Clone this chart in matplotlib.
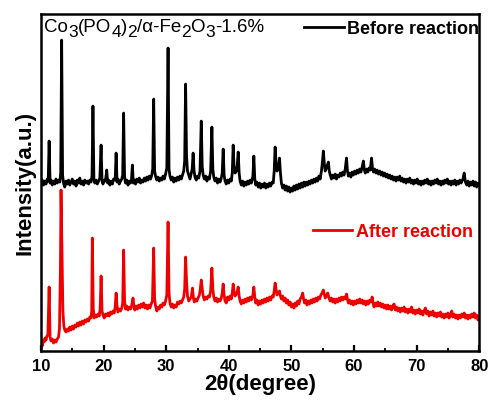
import numpy as np
import matplotlib
matplotlib.use("Agg")
import matplotlib.pyplot as plt
from matplotlib.ticker import MultipleLocator
from matplotlib.transforms import offset_copy

plt.rcParams['font.family'] = ['Liberation Sans', 'DejaVu Sans']

# XRD traces: (2theta, intensity a.u.)
before = [
    (10.0, 168), (10.2, 171), (10.4, 166), (10.6, 170), (10.8, 167), (11.0, 172), (11.15, 170), (11.3, 210),
    (11.45, 168), (11.6, 171), (11.8, 166), (12.0, 170), (12.2, 167), (12.4, 172), (12.6, 168), (12.8, 171),
    (13.0, 169), (13.15, 178), (13.3, 311), (13.45, 176), (13.6, 168), (13.8, 164), (14.0, 170), (14.2, 167),
    (14.4, 171), (14.6, 166), (14.8, 169), (15.0, 172), (15.2, 167), (15.4, 170), (15.6, 165), (15.8, 171),
    (16.0, 168), (16.2, 173), (16.4, 167), (16.6, 170), (16.8, 166), (17.0, 171), (17.2, 168), (17.4, 170),
    (17.6, 167), (17.8, 171), (18.0, 169), (18.15, 175), (18.3, 245), (18.45, 172), (18.6, 168), (18.8, 171),
    (19.0, 167), (19.2, 170), (19.4, 173), (19.6, 206), (19.75, 170), (19.9, 167), (20.1, 171), (20.3, 170),
    (20.5, 181), (20.65, 168), (20.8, 171), (21.0, 166), (21.2, 170), (21.4, 167), (21.6, 172), (21.85, 171),
    (22.0, 198), (22.15, 169), (22.3, 172), (22.5, 167), (22.7, 170), (22.9, 172), (23.05, 176), (23.2, 238),
    (23.35, 174), (23.5, 168), (23.7, 171), (23.9, 166), (24.1, 170), (24.3, 168), (24.45, 171), (24.6, 186),
    (24.75, 168), (24.9, 171), (25.1, 167), (25.3, 172), (25.5, 169), (25.7, 173), (25.9, 168), (26.1, 171),
    (26.3, 169), (26.5, 173), (26.7, 170), (26.9, 174), (27.1, 171), (27.3, 175), (27.5, 172), (27.7, 176),
    (27.85, 182), (28.0, 252), (28.15, 180), (28.3, 175), (28.5, 171), (28.7, 174), (28.9, 170), (29.1, 173),
    (29.3, 171), (29.5, 175), (29.7, 172), (29.9, 177), (30.1, 183), (30.3, 303), (30.45, 182), (30.6, 175),
    (30.8, 171), (31.0, 174), (31.2, 169), (31.4, 173), (31.6, 170), (31.8, 174), (32.0, 171), (32.2, 175),
    (32.4, 172), (32.6, 176), (32.8, 180), (32.95, 190), (33.1, 267), (33.25, 195), (33.4, 180), (33.6, 176),
    (33.8, 172), (34.0, 178), (34.15, 182), (34.3, 198), (34.45, 180), (34.6, 174), (34.8, 171), (35.0, 175),
    (35.2, 173), (35.4, 180), (35.6, 230), (35.75, 185), (35.9, 176), (36.1, 172), (36.3, 175), (36.5, 170),
    (36.7, 174), (36.9, 172), (37.1, 180), (37.3, 224), (37.45, 182), (37.6, 174), (37.8, 170), (38.0, 173),
    (38.2, 168), (38.4, 172), (38.6, 169), (38.8, 173), (38.95, 178), (39.1, 202), (39.25, 176), (39.4, 170),
    (39.6, 167), (39.8, 171), (40.0, 168), (40.2, 172), (40.4, 170), (40.55, 178), (40.7, 206), (40.85, 182),
    (41.0, 178), (41.2, 180), (41.35, 186), (41.5, 199), (41.65, 178), (41.8, 170), (42.0, 166), (42.2, 170),
    (42.4, 165), (42.6, 169), (42.8, 166), (43.0, 170), (43.2, 167), (43.4, 171), (43.6, 168), (43.85, 175),
    (44.0, 195), (44.15, 172), (44.3, 166), (44.5, 169), (44.7, 164), (44.9, 168), (45.1, 163), (45.3, 167),
    (45.5, 164), (45.7, 168), (45.9, 163), (46.1, 167), (46.3, 164), (46.5, 168), (46.7, 165), (46.9, 169),
    (47.1, 168), (47.25, 180), (47.4, 204), (47.55, 188), (47.7, 180), (47.9, 182), (48.1, 193), (48.25, 178),
    (48.4, 168), (48.6, 163), (48.8, 166), (49.0, 161), (49.2, 165), (49.4, 160), (49.6, 164), (49.8, 159),
    (50.0, 163), (50.2, 160), (50.4, 165), (50.6, 161), (50.8, 166), (51.0, 162), (51.2, 167), (51.4, 163),
    (51.6, 168), (51.8, 164), (52.0, 169), (52.2, 165), (52.4, 169), (52.6, 166), (52.8, 170), (53.0, 167),
    (53.2, 171), (53.4, 168), (53.6, 172), (53.8, 169), (54.0, 173), (54.2, 170), (54.4, 175), (54.6, 172),
    (54.8, 180), (55.0, 192), (55.1, 200), (55.25, 188), (55.4, 180), (55.6, 183), (55.9, 189), (56.05, 180),
    (56.2, 176), (56.4, 172), (56.6, 176), (56.8, 173), (57.0, 177), (57.2, 172), (57.4, 176), (57.6, 174),
    (57.8, 178), (58.0, 175), (58.2, 179), (58.4, 176), (58.6, 182), (58.8, 193), (58.95, 180), (59.1, 175),
    (59.3, 178), (59.5, 174), (59.7, 179), (59.9, 176), (60.1, 180), (60.3, 177), (60.5, 181), (60.7, 178),
    (60.9, 182), (61.1, 179), (61.3, 184), (61.5, 190), (61.65, 181), (61.8, 178), (62.0, 182), (62.2, 179),
    (62.4, 183), (62.6, 181), (62.8, 193), (62.95, 183), (63.1, 179), (63.3, 182), (63.5, 178), (63.7, 181),
    (63.9, 177), (64.1, 180), (64.3, 176), (64.5, 179), (64.7, 175), (64.9, 178), (65.1, 174), (65.3, 177),
    (65.5, 173), (65.7, 176), (65.9, 172), (66.1, 175), (66.3, 171), (66.5, 174), (66.7, 170), (66.9, 174),
    (67.1, 171), (67.3, 175), (67.5, 170), (67.7, 173), (67.9, 169), (68.1, 172), (68.3, 168), (68.5, 172),
    (68.7, 169), (68.9, 173), (69.1, 168), (69.3, 171), (69.5, 167), (69.7, 171), (69.9, 168), (70.1, 172),
    (70.3, 167), (70.5, 170), (70.7, 166), (70.9, 170), (71.1, 167), (71.3, 171), (71.5, 168), (71.7, 172),
    (71.9, 167), (72.1, 170), (72.3, 166), (72.5, 170), (72.7, 167), (72.9, 171), (73.1, 168), (73.3, 172),
    (73.5, 167), (73.7, 170), (73.9, 166), (74.1, 170), (74.3, 167), (74.5, 171), (74.7, 168), (74.9, 172),
    (75.1, 167), (75.3, 170), (75.5, 166), (75.7, 170), (75.9, 167), (76.1, 171), (76.3, 166), (76.5, 170),
    (76.7, 167), (76.9, 171), (77.1, 168), (77.4, 172), (77.6, 178), (77.8, 169), (78.0, 166), (78.2, 170),
    (78.4, 165), (78.6, 169), (78.8, 166), (79.0, 170), (79.2, 165), (79.4, 169), (79.6, 164), (79.8, 168),
    (80.0, 166),
]

after = [
    (10.0, 3), (10.1, 8), (10.2, 5), (10.35, 11), (10.5, 9), (10.65, 13), (10.8, 11), (10.95, 15),
    (11.1, 16), (11.3, 64), (11.45, 14), (11.6, 10), (11.8, 12), (12.0, 8), (12.2, 11), (12.4, 9),
    (12.6, 12), (12.8, 14), (12.95, 22), (13.1, 80), (13.2, 161), (13.35, 100), (13.5, 40), (13.65, 25),
    (13.8, 21), (14.0, 19), (14.2, 22), (14.4, 20), (14.6, 24), (14.8, 21), (15.0, 25), (15.2, 22),
    (15.4, 26), (15.6, 24), (15.8, 28), (16.0, 25), (16.2, 29), (16.4, 26), (16.6, 30), (16.8, 27),
    (17.0, 31), (17.2, 29), (17.4, 32), (17.6, 30), (17.8, 34), (18.0, 33), (18.1, 40), (18.2, 113),
    (18.35, 42), (18.5, 33), (18.7, 36), (18.9, 34), (19.1, 37), (19.3, 35), (19.45, 42), (19.6, 75),
    (19.75, 40), (19.9, 36), (20.1, 33), (20.3, 37), (20.5, 35), (20.7, 38), (20.9, 35), (21.1, 39),
    (21.3, 37), (21.5, 40), (21.7, 38), (21.85, 44), (22.0, 58), (22.15, 45), (22.3, 39), (22.5, 42),
    (22.7, 40), (22.9, 43), (23.05, 48), (23.2, 101), (23.35, 50), (23.5, 42), (23.7, 45), (23.9, 41),
    (24.1, 44), (24.3, 42), (24.5, 46), (24.7, 53), (24.85, 44), (25.0, 41), (25.2, 45), (25.4, 42),
    (25.6, 46), (25.8, 43), (26.0, 47), (26.2, 44), (26.4, 48), (26.6, 43), (26.8, 46), (27.0, 42),
    (27.2, 46), (27.4, 43), (27.6, 47), (27.8, 50), (28.0, 103), (28.15, 52), (28.3, 45), (28.5, 40),
    (28.7, 44), (28.9, 42), (29.1, 46), (29.3, 44), (29.5, 48), (29.7, 46), (29.9, 50), (30.1, 56),
    (30.3, 129), (30.45, 58), (30.6, 48), (30.8, 44), (31.0, 47), (31.2, 43), (31.4, 46), (31.6, 44),
    (31.8, 49), (32.0, 47), (32.2, 50), (32.4, 48), (32.6, 51), (32.8, 54), (32.95, 62), (33.1, 94),
    (33.25, 70), (33.4, 55), (33.6, 50), (33.8, 52), (34.0, 54), (34.2, 63), (34.35, 53), (34.5, 49),
    (34.7, 52), (34.9, 50), (35.1, 53), (35.3, 56), (35.45, 62), (35.6, 71), (35.75, 63), (35.9, 55),
    (36.1, 51), (36.3, 54), (36.5, 52), (36.7, 55), (36.9, 54), (37.1, 60), (37.3, 83), (37.45, 62),
    (37.6, 54), (37.8, 50), (38.0, 53), (38.2, 49), (38.4, 52), (38.6, 50), (38.8, 53), (38.95, 58),
    (39.1, 67), (39.25, 56), (39.4, 50), (39.6, 48), (39.8, 54), (40.0, 51), (40.2, 55), (40.4, 52),
    (40.55, 58), (40.7, 67), (40.85, 58), (41.0, 55), (41.2, 57), (41.35, 60), (41.5, 64), (41.65, 55),
    (41.8, 50), (42.0, 47), (42.2, 51), (42.4, 48), (42.6, 52), (42.8, 49), (43.0, 53), (43.2, 50),
    (43.4, 54), (43.6, 51), (43.85, 56), (44.0, 64), (44.15, 54), (44.3, 48), (44.5, 51), (44.7, 46),
    (44.9, 50), (45.1, 47), (45.3, 51), (45.5, 48), (45.7, 52), (45.9, 49), (46.1, 53), (46.3, 50),
    (46.5, 54), (46.7, 51), (46.9, 55), (47.1, 54), (47.25, 60), (47.4, 68), (47.55, 62), (47.7, 56),
    (47.9, 58), (48.1, 60), (48.25, 55), (48.4, 52), (48.6, 55), (48.8, 50), (49.0, 53), (49.2, 48),
    (49.4, 51), (49.6, 46), (49.8, 49), (50.0, 44), (50.2, 47), (50.4, 43), (50.6, 48), (50.8, 45),
    (51.0, 50), (51.2, 47), (51.4, 52), (51.6, 54), (51.8, 58), (51.95, 52), (52.1, 48), (52.3, 51),
    (52.5, 46), (52.7, 50), (52.9, 47), (53.1, 51), (53.3, 48), (53.5, 52), (53.7, 49), (53.9, 53),
    (54.1, 50), (54.3, 54), (54.5, 52), (54.7, 56), (54.9, 58), (55.1, 61), (55.25, 57), (55.4, 53),
    (55.6, 55), (55.8, 58), (56.0, 53), (56.2, 50), (56.4, 53), (56.6, 49), (56.8, 52), (57.0, 48),
    (57.2, 52), (57.4, 49), (57.6, 53), (57.8, 50), (58.0, 54), (58.2, 51), (58.4, 54), (58.6, 52),
    (58.8, 57), (58.95, 52), (59.1, 48), (59.3, 51), (59.5, 47), (59.7, 50), (59.9, 46), (60.1, 50),
    (60.3, 47), (60.5, 51), (60.7, 48), (60.9, 52), (61.1, 48), (61.3, 51), (61.5, 47), (61.7, 50),
    (61.9, 46), (62.1, 50), (62.3, 47), (62.5, 51), (62.7, 49), (62.9, 54), (63.05, 48), (63.2, 44),
    (63.4, 48), (63.6, 45), (63.8, 49), (64.0, 45), (64.2, 48), (64.4, 44), (64.6, 47), (64.8, 43),
    (65.0, 46), (65.2, 42), (65.4, 46), (65.6, 42), (65.8, 45), (66.0, 41), (66.2, 45), (66.4, 47),
    (66.6, 41), (66.8, 44), (67.0, 40), (67.2, 43), (67.4, 39), (67.6, 43), (67.8, 40), (68.0, 44),
    (68.2, 39), (68.4, 42), (68.6, 38), (68.8, 42), (69.0, 39), (69.2, 44), (69.4, 38), (69.6, 41),
    (69.8, 37), (70.0, 41), (70.2, 38), (70.4, 42), (70.6, 37), (70.8, 40), (71.0, 36), (71.2, 40),
    (71.4, 43), (71.6, 37), (71.8, 40), (72.0, 35), (72.2, 39), (72.4, 36), (72.6, 40), (72.8, 35),
    (73.0, 38), (73.2, 34), (73.4, 38), (73.6, 35), (73.8, 39), (74.0, 34), (74.2, 37), (74.4, 33),
    (74.6, 37), (74.8, 34), (75.0, 38), (75.2, 33), (75.4, 36), (75.6, 40), (75.8, 34), (76.0, 37),
    (76.2, 33), (76.4, 36), (76.6, 32), (76.8, 36), (77.0, 33), (77.2, 37), (77.4, 34), (77.6, 38),
    (77.8, 33), (78.0, 36), (78.2, 32), (78.4, 36), (78.6, 33), (78.8, 37), (79.0, 34), (79.2, 38),
    (79.4, 33), (79.6, 36), (79.8, 31), (80.0, 34),
]

# sample label, split into (text, is_subscript)
sample_parts = [("Co", False), ("3", True), ("(PO", False), ("4", True), (")", False), ("2", True),
                ("/α-Fe", False), ("2", True), ("O", False), ("3", True), ("-1.6%", False)]

xb, yb = np.array(before).T
xa, ya = np.array(after).T
red = '#ee0000'

fig = plt.figure(figsize=(4.88, 4.03), dpi=100)
ax = fig.add_axes([0.084, 0.129, 0.898, 0.836])

lb, = ax.plot(xb, yb, color='black', linewidth=2.0, label='Before reaction')
la, = ax.plot(xa, ya, color=red, linewidth=2.0, label='After reaction')

ax.set_xlim(10, 80)
ax.set_ylim(0, 337)
ax.xaxis.set_major_locator(MultipleLocator(10))
ax.xaxis.set_minor_locator(MultipleLocator(5))
ax.set_yticks([])
ax.tick_params(axis='x', which='major', direction='in', length=4, width=1.6,
               labelsize=12, pad=6)
ax.tick_params(axis='x', which='minor', direction='in', length=2.5, width=1.3)
for lab in ax.get_xticklabels():
    lab.set_fontweight('bold')
for sp in ax.spines.values():
    sp.set_linewidth(1.8)

ax.set_xlabel('2θ(degree)', fontsize=16, fontweight='bold', labelpad=0)
ax.set_ylabel('Intensity(a.u.)', fontsize=16, fontweight='bold', labelpad=4)

# sample name with near full-size subscripts, laid out piece by piece
fig.canvas.draw()
renderer = fig.canvas.get_renderer()
trans = ax.transAxes
for txt, sub in sample_parts:
    if sub:
        t = ax.text(0.008, 0.948, txt, fontsize=12.5, ha='left', va='baseline',
                    transform=offset_copy(trans, fig=fig, x=0, y=-4, units='points'))
    else:
        t = ax.text(0.008, 0.948, txt, fontsize=13.5, ha='left', va='baseline',
                    transform=trans)
    w = t.get_window_extent(renderer).width
    trans = offset_copy(trans, fig=fig, x=w, units='dots')

leg1 = ax.legend(handles=[lb], loc='center right', bbox_to_anchor=(1.0, 0.955),
                 frameon=False, handlelength=2.2, handletextpad=0.2,
                 borderpad=0, borderaxespad=0, prop={'weight': 'bold', 'size': 13})
ax.add_artist(leg1)
leg2 = ax.legend(handles=[la], loc='center right', bbox_to_anchor=(0.986, 0.353),
                 frameon=False, handlelength=2.2, handletextpad=0.2,
                 borderpad=0, borderaxespad=0, prop={'weight': 'bold', 'size': 13})
for t in leg2.get_texts():
    t.set_color(red)

fig.savefig('out.png', dpi=100)
